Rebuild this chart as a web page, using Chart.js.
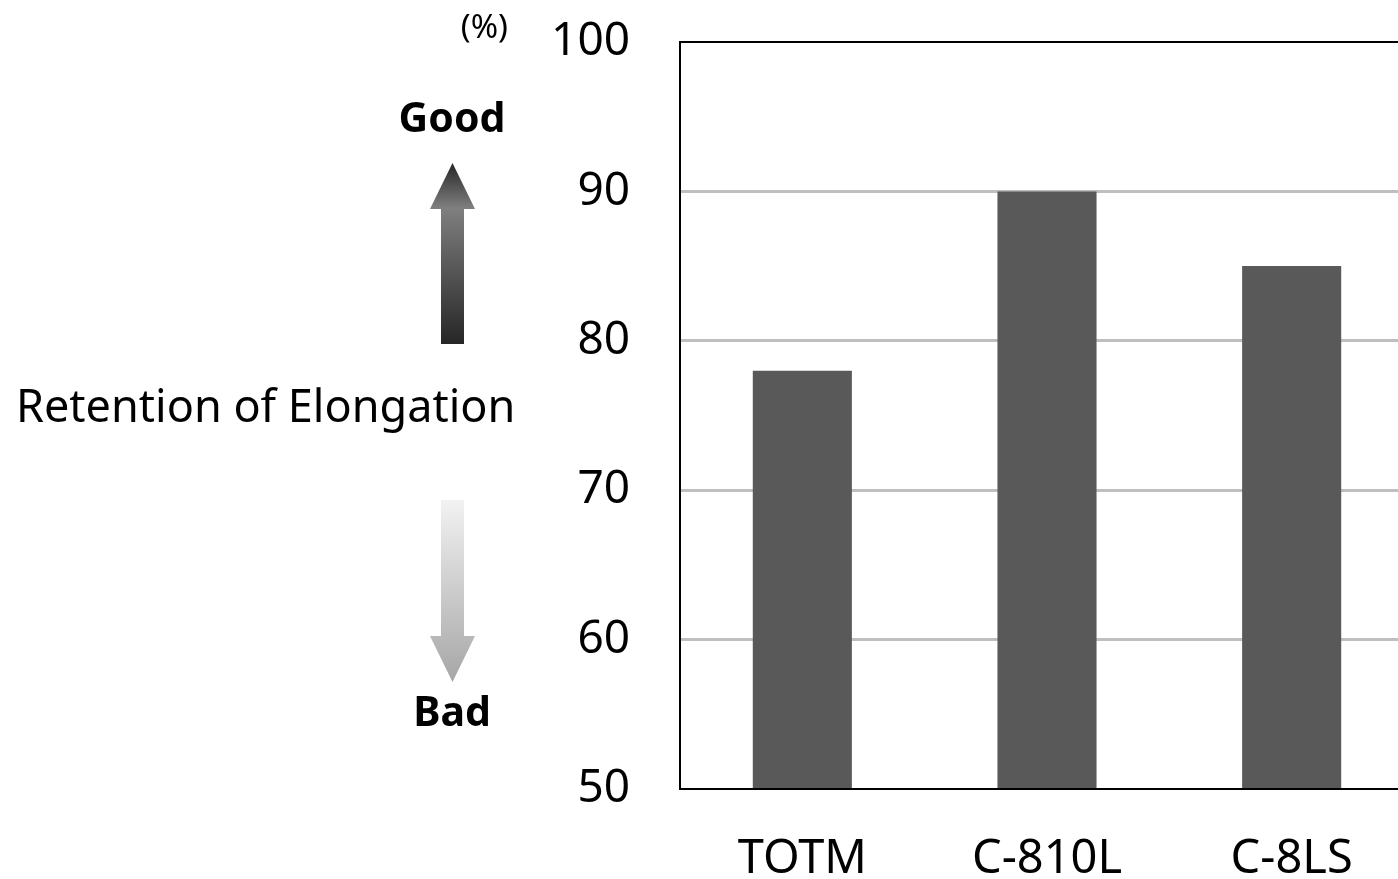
<!DOCTYPE html>
<html>
<head>
<meta charset="utf-8">
<script src="https://cdn.jsdelivr.net/npm/chart.js@4.4.1/dist/chart.umd.min.js"></script>
<style>
  html, body { margin: 0; padding: 0; background: #fff; overflow: hidden; }
  #wrap { position: relative; width: 1420px; height: 879px; }
</style>
</head>
<body>
<div id="wrap"><canvas id="c"></canvas></div>
<script>
const categories = ['TOTM', 'C-810L', 'C-8LS'];
const retentionValues = [78, 90, 85];
const yTicks = [50, 60, 70, 80, 90, 100];
const unitLabel = '(%)';
const axisTitle = 'Retention of Elongation';
const goodLabel = 'Good';
const badLabel = 'Bad';

const FONT = "'Noto Sans', 'Open Sans', sans-serif";

const decorations = {
  id: 'decorations',
  afterDatasetsDraw(chart) {
    const ctx = chart.ctx;
    const a = chart.chartArea;
    ctx.save();
    // plot frame
    ctx.strokeStyle = '#000';
    ctx.lineWidth = 2;
    ctx.strokeRect(a.left, a.top, a.right - a.left, a.bottom - a.top);

    // texts
    ctx.fillStyle = '#000';
    ctx.textBaseline = 'middle';
    ctx.textAlign = 'right';
    ctx.font = "33px " + FONT;
    ctx.fillText(unitLabel, 508, 29);

    ctx.textAlign = 'center';
    ctx.font = "bold 41px " + FONT;
    ctx.fillText(goodLabel, 452, 120);
    ctx.fillText(badLabel, 452, 714);

    ctx.textAlign = 'left';
    ctx.font = "45px " + FONT;
    ctx.fillText(axisTitle, 16, 409);

    // up arrow
    const cx = 452.5;
    let g = ctx.createLinearGradient(0, 163, 0, 344);
    g.addColorStop(0, '#262626');
    g.addColorStop(0.25, '#7f7f7f');
    g.addColorStop(1, '#262626');
    ctx.fillStyle = g;
    ctx.beginPath();
    ctx.moveTo(cx, 163);
    ctx.lineTo(cx + 22.5, 209);
    ctx.lineTo(cx + 11.5, 209);
    ctx.lineTo(cx + 11.5, 344);
    ctx.lineTo(cx - 11.5, 344);
    ctx.lineTo(cx - 11.5, 209);
    ctx.lineTo(cx - 22.5, 209);
    ctx.closePath();
    ctx.fill();

    // down arrow
    g = ctx.createLinearGradient(0, 500, 0, 682);
    g.addColorStop(0, '#f2f2f2');
    g.addColorStop(1, '#a6a6a6');
    ctx.fillStyle = g;
    ctx.beginPath();
    ctx.moveTo(cx - 11.5, 500);
    ctx.lineTo(cx + 11.5, 500);
    ctx.lineTo(cx + 11.5, 636);
    ctx.lineTo(cx + 22.5, 636);
    ctx.lineTo(cx, 682);
    ctx.lineTo(cx - 22.5, 636);
    ctx.lineTo(cx - 11.5, 636);
    ctx.closePath();
    ctx.fill();
    ctx.restore();
  }
};

new Chart(document.getElementById('c'), {
  type: 'bar',
  data: {
    labels: categories,
    datasets: [{
      data: retentionValues,
      backgroundColor: '#595959',
      borderWidth: 0,
      barPercentage: 0.405,
      categoryPercentage: 1.0
    }]
  },
  options: {
    responsive: true,
    maintainAspectRatio: false,
    animation: false,
    devicePixelRatio: 1,
    layout: { padding: { top: 42, right: 6, left: 0, bottom: 0 } },
    plugins: { legend: { display: false }, tooltip: { enabled: false } },
    scales: {
      x: {
        grid: { display: false, drawTicks: false },
        border: { display: false },
        ticks: { color: '#000', font: { family: FONT, size: 47 }, padding: 42, maxRotation: 0 },
        afterFit(scale) { scale.height = 90; scale.paddingLeft = 0; scale.paddingRight = 0; }
      },
      y: {
        min: 50,
        max: 100,
        afterBuildTicks(scale) { scale.ticks = yTicks.map(v => ({ value: v })); },
        grid: {
          drawTicks: false,
          lineWidth: 3,
          color: (c) => (c.tick && (c.tick.value === 50 || c.tick.value === 100)) ? 'rgba(0,0,0,0)' : '#bfbfbf'
        },
        border: { display: false },
        ticks: { color: '#000', font: { family: FONT, size: 46 }, padding: 50 },
        afterFit(scale) { scale.width = 680; scale.paddingTop = 0; scale.paddingBottom = 0; }
      }
    }
  },
  plugins: [decorations]
});
</script>
</body>
</html>
